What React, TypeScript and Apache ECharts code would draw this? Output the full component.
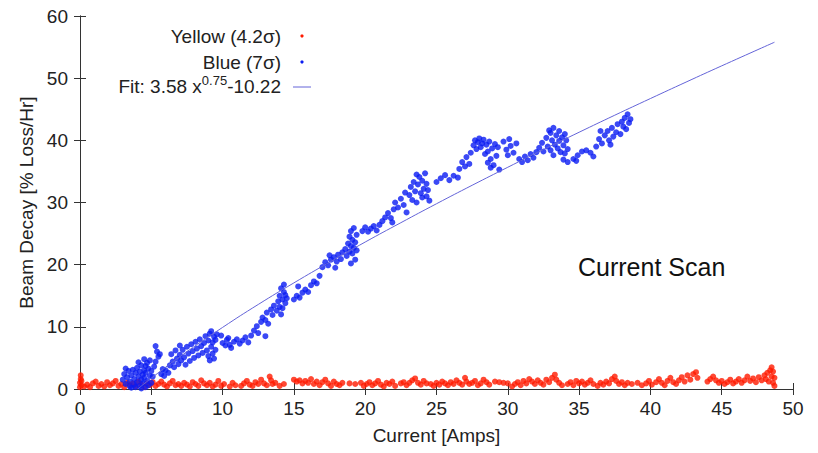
import React, { useEffect, useRef } from "react";
import * as echarts from "echarts";

const xTicks = { min: 0, max: 50, interval: 5 };
const yTicks = { min: 0, max: 60, interval: 10 };

const legendLabels = ["Yellow (4.2σ)", "Blue (7σ)", "Fit: 3.58 x{sup|0.75}-10.22"];
const annotation = "Current Scan";

// fit curve: 3.58 x^0.75 - 10.22 (values tabulated)
const fitData: [number, number][] = [
  [4.05, 0.0], [5, 1.75], [7.5, 6.0], [10, 9.91], [12.5, 13.6], [15, 17.07], [17.5, 20.4],
  [20, 23.64], [22.5, 26.75], [25, 29.8], [27.5, 32.77], [30, 35.67], [32.5, 38.52],
  [35, 41.3], [37.5, 44.04], [40, 46.72], [42.5, 49.37], [45, 51.98], [48.7, 55.78],
];

const blueData: [number, number][] = [
  [3.0, 1.5], [3.1, 2.4], [3.2, 0.8], [3.3, 1.9], [3.4, 2.9], [3.5, 1.2], [3.5, 0.4], [3.6, 2.2], [3.7, 3.1], [3.8, 1.6],
  [3.8, 0.7], [3.9, 2.6], [4.0, 1.1], [4.0, 3.4], [4.1, 2.0], [4.2, 0.5], [4.2, 2.8], [4.3, 1.5], [4.3, 3.8], [4.4, 0.9],
  [4.4, 2.3], [4.5, 3.0], [4.5, 1.8], [4.6, 0.3], [4.6, 2.6], [4.7, 4.2], [4.7, 1.3], [4.8, 3.3], [4.8, 0.6], [4.9, 2.1],
  [4.9, 4.6], [5.0, 1.0], [5.0, 2.9], [3.2, 3.3], [3.6, 0.2], [4.1, 4.3], [4.5, 4.8], [3.9, 0.3], [4.3, 0.1], [4.6, 3.7],
  [5.1, 2.0], [5.2, 3.6], [5.3, 6.9], [5.4, 6.0], [5.5, 5.2], [5.6, 5.6], [5.3, 4.4], [5.7, 2.4], [5.8, 3.2], [5.9, 2.1],
  [6.0, 3.0], [6.2, 2.6], [6.3, 3.8], [6.5, 4.4], [6.6, 3.5], [6.8, 4.9], [6.9, 4.0], [7.0, 5.5], [7.1, 4.6], [7.2, 6.3],
  [7.3, 5.1], [7.4, 3.9], [7.5, 6.8], [7.6, 5.7], [7.7, 4.5], [7.8, 7.2], [7.9, 6.1], [8.0, 5.0], [8.1, 7.6], [8.2, 6.5],
  [8.3, 5.4], [8.4, 8.0], [8.5, 6.9], [8.6, 5.8], [8.7, 7.4], [8.8, 8.5], [8.9, 6.2], [9.0, 7.8], [9.0, 5.3], [9.1, 8.9],
  [9.1, 4.6], [9.2, 6.8], [9.2, 9.3], [9.3, 7.5], [9.3, 5.7], [9.4, 8.4], [9.4, 4.9], [9.5, 6.3], [9.5, 7.9], [9.6, 8.8],
  [6.4, 5.6], [6.7, 6.2], [7.0, 7.0], [9.9, 8.6], [10.2, 7.0], [10.4, 8.2], [10.6, 6.6],
  [10.0, 7.4], [10.3, 7.9], [10.5, 7.1], [10.8, 7.6], [11.0, 8.0], [11.2, 7.3], [11.4, 7.8], [11.6, 8.3], [11.8, 7.5], [12.0, 8.6],
  [12.2, 9.4], [12.4, 10.1], [12.5, 9.0], [12.7, 10.8], [12.8, 11.5], [13.0, 11.1], [13.1, 12.3], [13.2, 10.5], [13.4, 12.8], [13.5, 11.9],
  [13.6, 13.4], [13.8, 12.6], [13.9, 14.1], [14.0, 13.2], [14.0, 15.0], [14.1, 12.0], [14.1, 16.2], [14.2, 14.4], [14.2, 13.0], [14.3, 15.6],
  [14.3, 16.8], [14.4, 13.8], [14.4, 15.1], [14.5, 14.6], [13.0, 8.5],
  [15.0, 14.4], [15.2, 15.0], [15.4, 14.7], [15.6, 15.5], [15.8, 16.0], [16.0, 15.6], [16.2, 16.7], [16.4, 17.3], [16.6, 17.0], [15.3, 16.5], [16.8, 18.2],
  [17.0, 19.6], [17.2, 20.4], [17.4, 19.9], [17.6, 20.8], [17.8, 21.2], [18.0, 20.5], [18.1, 21.6], [18.3, 20.9], [18.4, 22.0], [17.5, 21.5], [17.9, 19.5],
  [18.6, 22.5], [18.7, 21.4], [18.8, 23.4], [18.9, 22.1], [18.9, 24.5], [19.0, 23.0], [19.0, 25.4], [19.1, 21.8], [19.1, 24.0], [19.2, 22.7],
  [19.2, 25.9], [19.3, 23.6], [19.3, 20.8], [19.4, 24.8], [19.4, 22.3], [19.0, 20.2],
  [19.8, 25.4], [20.0, 26.0], [20.2, 25.3], [20.4, 25.8], [20.6, 26.2], [20.8, 25.5], [21.0, 26.4],
  [21.2, 27.0], [21.4, 27.6], [21.6, 28.3], [21.8, 27.5], [22.0, 28.9], [22.1, 30.0], [22.3, 29.2], [22.5, 30.6], [22.7, 29.6], [22.9, 28.4], [21.9, 26.8], [22.8, 31.6],
  [23.1, 31.2], [23.2, 32.5], [23.3, 30.4], [23.4, 33.3], [23.5, 31.8], [23.6, 30.0], [23.7, 32.9], [23.8, 34.1], [23.9, 31.5], [24.0, 33.5],
  [24.0, 30.8], [24.1, 32.2], [24.2, 34.7], [24.3, 31.0], [24.3, 33.0], [24.4, 32.0], [24.5, 30.3], [23.6, 34.5],
  [25.0, 33.3], [25.3, 33.9], [25.6, 34.4], [25.9, 33.6], [26.2, 34.3], [26.5, 34.0],
  [26.6, 35.4], [26.8, 36.5], [27.0, 35.8], [27.1, 37.3], [27.3, 36.2], [27.4, 38.0],
  [27.6, 39.2], [27.7, 40.0], [27.8, 38.6], [27.9, 39.7], [28.0, 40.3], [28.1, 38.9], [28.2, 39.5], [28.3, 40.1], [28.4, 37.8], [28.5, 39.3],
  [28.6, 36.4], [28.6, 38.2], [28.7, 39.8], [28.8, 35.6], [28.8, 37.0], [28.9, 38.7], [29.0, 36.0], [29.1, 39.4], [29.2, 37.5], [29.3, 38.9], [29.4, 35.3],
  [29.7, 39.8], [29.9, 38.5], [30.0, 37.6], [30.2, 39.1], [30.4, 38.0], [30.6, 39.5], [30.1, 40.2],
  [30.8, 37.0], [31.0, 36.5], [31.2, 37.4], [31.4, 36.8], [31.6, 37.8], [31.8, 37.2], [32.0, 38.1],
  [32.2, 38.8], [32.4, 39.6], [32.5, 38.2], [32.7, 40.4], [32.8, 39.0], [33.0, 41.2], [33.0, 38.4], [33.1, 40.0], [33.2, 42.0], [33.3, 39.3],
  [33.4, 40.8], [33.5, 38.7], [33.6, 41.5], [33.6, 39.9], [33.7, 38.1], [33.8, 40.5], [33.9, 39.2], [34.0, 41.0], [34.0, 37.9], [34.1, 40.0],
  [34.2, 38.6], [34.2, 36.5], [33.9, 36.9], [33.2, 37.6], [32.9, 41.6],
  [34.6, 37.0], [34.9, 37.6], [35.2, 38.2], [35.5, 38.4], [35.8, 38.0], [36.0, 37.4], [34.8, 36.7],
  [36.2, 39.0], [36.4, 40.2], [36.6, 39.5], [36.8, 40.8], [37.0, 41.5], [37.1, 40.0], [37.3, 42.0], [37.4, 40.6], [37.6, 41.3], [37.7, 42.6],
  [37.9, 41.0], [38.0, 43.0], [38.1, 42.2], [38.2, 43.6], [38.3, 41.8], [38.4, 44.2], [38.5, 42.8], [38.6, 43.4], [37.2, 39.3], [36.5, 41.5],
];

const redData: [number, number][] = [
  [0.0, 0.3], [0.0, 1.0], [0.05, 1.6], [0.05, 2.2], [0.1, 0.6], [0.1, 1.3], [0.3, 0.4], [0.5, 0.7], [0.7, 0.3], [0.9, 0.9],
  [1.1, 1.2], [1.3, 0.5], [1.5, 0.8], [1.7, 0.4], [1.9, 1.1], [2.1, 0.6], [2.3, 0.9], [2.5, 1.3], [2.7, 0.5], [2.9, 0.8],
  [3.1, 0.3], [3.3, 1.0], [3.5, 0.6], [3.7, 0.9], [3.9, 0.4], [4.1, 1.2], [4.3, 0.7], [4.5, 0.3], [4.7, 0.9], [4.9, 0.6],
  [5.1, 1.1], [5.3, 0.5], [5.5, 0.8], [5.7, 1.2], [5.9, 0.7], [6.1, 0.4], [6.3, 0.9], [6.5, 1.3], [6.7, 0.6], [6.9, 0.8],
  [7.1, 0.5], [7.3, 1.0], [7.5, 0.7], [7.7, 0.4], [7.9, 1.1], [8.1, 0.8], [8.3, 0.5], [8.5, 1.4], [8.7, 0.9], [8.9, 0.6],
  [9.1, 1.0], [9.3, 0.4], [9.5, 0.7], [9.7, 1.3], [9.9, 0.5], [10.1, 0.8], [10.5, 0.4], [10.7, 1.0], [10.9, 0.6], [11.3, 0.5],
  [11.5, 0.9], [11.7, 1.3], [11.9, 0.7], [12.1, 0.5], [12.3, 1.1], [12.5, 0.8], [12.7, 1.5], [12.9, 0.9], [13.1, 0.6], [13.3, 2.0],
  [13.4, 1.4], [13.5, 0.8], [13.7, 1.0], [14.0, 0.5], [14.3, 0.8], [15.0, 1.5], [15.2, 1.2], [15.4, 1.4], [15.6, 0.9], [15.8, 1.3],
  [16.0, 1.0], [16.2, 1.6], [16.4, 0.8], [16.6, 1.2], [16.8, 0.6], [17.0, 1.1], [17.2, 1.5], [17.4, 0.9], [17.6, 0.5], [17.8, 1.2],
  [18.0, 0.8], [18.2, 0.6], [18.4, 1.0], [18.9, 0.9], [19.3, 0.8], [19.7, 1.0], [19.9, 0.5], [20.1, 0.8], [20.3, 1.1], [20.5, 0.6],
  [20.7, 0.9], [20.9, 1.3], [21.1, 0.7], [21.3, 0.4], [21.5, 1.0], [21.7, 0.8], [21.9, 1.2], [22.1, 0.5], [22.5, 0.9], [22.7, 1.1],
  [22.9, 0.6], [23.1, 1.0], [23.3, 1.4], [23.5, 1.7], [23.7, 1.0], [23.9, 0.7], [24.1, 1.3], [24.3, 0.9], [24.6, 0.8], [24.8, 0.5],
  [25.0, 1.0], [25.2, 0.7], [25.4, 1.2], [25.6, 0.9], [25.8, 0.6], [26.0, 1.1], [26.2, 0.8], [26.4, 1.4], [26.6, 1.0], [26.8, 0.7],
  [27.0, 1.8], [27.1, 1.2], [27.3, 0.8], [27.5, 1.0], [27.7, 1.3], [27.9, 0.6], [28.1, 0.9], [28.3, 1.5], [28.5, 1.1], [28.7, 0.7],
  [29.1, 1.2], [29.4, 1.1], [29.7, 1.0], [30.0, 0.9], [30.3, 0.4], [30.5, 0.8], [30.7, 1.1], [30.9, 0.6], [31.1, 1.3], [31.3, 0.9],
  [31.5, 1.6], [31.7, 1.2], [31.9, 0.8], [32.1, 1.4], [32.3, 1.0], [32.5, 0.7], [32.7, 1.5], [32.9, 1.1], [33.1, 1.8], [33.3, 2.3],
  [33.4, 1.5], [33.6, 1.0], [33.8, 0.6], [34.2, 0.8], [34.4, 1.1], [34.6, 0.6], [34.8, 1.3], [35.0, 0.9], [35.2, 1.2], [35.4, 0.7],
  [35.6, 1.0], [35.8, 1.4], [36.0, 0.8], [36.3, 0.5], [36.5, 1.0], [36.7, 0.7], [36.9, 1.2], [37.1, 0.9], [37.3, 1.6], [37.5, 2.0],
  [37.6, 1.3], [37.8, 0.8], [38.0, 1.1], [38.2, 0.6], [38.4, 1.0], [38.7, 0.8], [39.1, 1.0], [39.4, 0.6], [39.7, 0.9], [39.9, 1.3],
  [40.1, 0.7], [40.4, 1.1], [40.6, 1.6], [40.8, 1.0], [41.0, 0.6], [41.2, 1.3], [41.4, 1.8], [41.6, 1.1], [41.8, 0.8], [42.0, 1.4],
  [42.2, 1.9], [42.4, 1.2], [42.6, 2.2], [42.8, 1.5], [43.0, 2.4], [43.2, 2.7], [43.3, 1.8], [44.0, 1.2], [44.2, 1.6], [44.4, 2.0],
  [44.6, 1.4], [44.8, 1.0], [45.0, 1.3], [45.2, 0.8], [45.4, 1.1], [45.6, 1.5], [45.8, 0.9], [46.0, 1.2], [46.2, 1.6], [46.4, 1.0],
  [46.6, 1.4], [46.8, 2.0], [47.0, 1.3], [47.2, 1.7], [47.4, 1.1], [47.6, 1.9], [47.8, 1.4], [48.0, 2.2], [48.1, 1.6], [48.2, 2.6],
  [48.3, 1.2], [48.4, 3.0], [48.5, 2.0], [48.5, 3.5], [48.6, 1.0], [48.6, 2.8], [48.7, 0.5], [48.7, 1.8],
];

const FONT = "'Liberation Sans', Arial, sans-serif";
const RED = "#ff1a00";
const BLUE = "#0a1cf2";
const FIT = "#6464d8";
const AXIS = "#333";

export default function App() {
  const ref = useRef<HTMLDivElement>(null);
  useEffect(() => {
    if (!ref.current) return;
    const chart = echarts.init(ref.current, null, { renderer: "svg" });
    const axisCommon = {
      type: "value" as const,
      axisLine: { show: true, lineStyle: { color: AXIS, width: 1 } },
      axisTick: { show: true, inside: true, length: 6, lineStyle: { color: AXIS } },
      splitLine: { show: false },
    };
    chart.setOption({
      animation: false,
      backgroundColor: "#fff",
      grid: { left: 80, right: 25, top: 16, bottom: 64 },
      xAxis: [
        {
          ...axisCommon,
          ...xTicks,
          position: "bottom",
          name: "Current [Amps]",
          nameLocation: "middle",
          nameGap: 37,
          nameTextStyle: { fontFamily: FONT, fontSize: 19, color: "#222" },
          axisLabel: { fontFamily: FONT, fontSize: 19, color: "#222", margin: 10 },
        },
        {
          ...axisCommon,
          ...xTicks,
          position: "top",
          axisLabel: { show: false },
        },
      ],
      yAxis: [
        {
          ...axisCommon,
          ...yTicks,
          position: "left",
          name: "Beam Decay [% Loss/Hr]",
          nameLocation: "middle",
          nameGap: 44,
          nameRotate: 90,
          nameTextStyle: { fontFamily: FONT, fontSize: 19, color: "#222" },
          axisLabel: { fontFamily: FONT, fontSize: 19, color: "#222", margin: 12 },
        },
        {
          ...axisCommon,
          ...yTicks,
          position: "right",
          axisLabel: { show: false },
        },
      ],
      series: [
        {
          name: "Yellow",
          type: "scatter",
          data: redData,
          symbol: "circle",
          symbolSize: 6,
          itemStyle: { color: RED },
          xAxisIndex: 0,
          yAxisIndex: 0,
          z: 2,
        },
        {
          name: "Blue",
          type: "scatter",
          data: blueData,
          symbol: "circle",
          symbolSize: 6,
          itemStyle: { color: BLUE },
          xAxisIndex: 0,
          yAxisIndex: 0,
          z: 3,
        },
        {
          name: "Fit",
          type: "line",
          data: fitData,
          smooth: true,
          showSymbol: false,
          lineStyle: { color: FIT, width: 1 },
          xAxisIndex: 0,
          yAxisIndex: 0,
          z: 4,
        },
      ],
      graphic: [
        {
          type: "text",
          x: 281,
          y: 36,
          style: { text: legendLabels[0], textAlign: "right", textVerticalAlign: "middle", font: `19px ${FONT}`, fill: "#222" },
        },
        {
          type: "text",
          x: 281,
          y: 62,
          style: { text: legendLabels[1], textAlign: "right", textVerticalAlign: "middle", font: `19px ${FONT}`, fill: "#222" },
        },
        {
          type: "text",
          x: 281,
          y: 86,
          style: {
            text: legendLabels[2],
            textAlign: "right",
            textVerticalAlign: "middle",
            font: `19px ${FONT}`,
            fill: "#222",
            rich: {
              sup: { fontSize: 13, fontFamily: FONT, fill: "#222", verticalAlign: "top", padding: [0, 0, 12, 0] },
            },
          },
        },
        { type: "circle", shape: { cx: 302, cy: 36, r: 1.6 }, style: { fill: RED } },
        { type: "circle", shape: { cx: 302, cy: 62, r: 1.6 }, style: { fill: BLUE } },
        { type: "line", shape: { x1: 293, y1: 87, x2: 311, y2: 87 }, style: { stroke: FIT, lineWidth: 1 } },
        {
          type: "text",
          x: 578,
          y: 267,
          style: { text: annotation, textAlign: "left", textVerticalAlign: "middle", font: `25px ${FONT}`, fill: "#111" },
        },
      ],
    });
    return () => chart.dispose();
  }, []);
  return (
    <div
      ref={ref}
      style={{ position: "fixed", left: 0, top: 0, width: 818, height: 453 }}
    />
  );
}
